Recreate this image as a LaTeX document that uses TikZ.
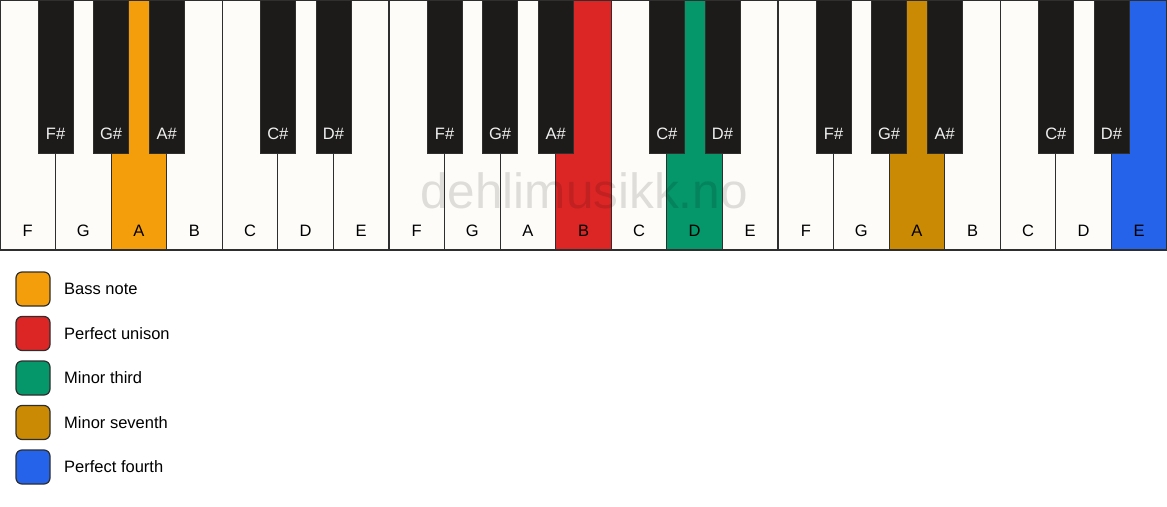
\documentclass[tikz,border=0pt]{standalone}
\usepackage{fontspec}
\setmainfont{Liberation Sans}
\usetikzlibrary{positioning}

\definecolor{keywhite}{HTML}{FDFCF9}
\definecolor{keyblack}{HTML}{1C1B19}
\definecolor{keyline}{HTML}{2E2E2E}
\definecolor{bassnote}{HTML}{F59E0B}
\definecolor{unison}{HTML}{DC2626}
\definecolor{minthird}{HTML}{059669}
\definecolor{minseventh}{HTML}{CA8A04}
\definecolor{fourth}{HTML}{2563EB}

\begin{document}
\begin{tikzpicture}[x=1pt,y=-1pt,
  wkey/.style={draw=keyline,line width=1.2pt,fill=keywhite,minimum width=55.571pt,minimum height=250pt,inner sep=0pt,outer sep=0pt},
  bkey/.style={draw=keyblack!80!gray,line width=0.6pt,fill=keyblack,minimum width=35pt,minimum height=153pt,inner sep=0pt,outer sep=0pt,anchor=north},
  wlab/.style={font=\fontsize{16.5}{19}\selectfont,text=black,inner sep=0pt},
  blab/.style={font=\fontsize{16.5}{19}\selectfont,text=white!94!black,inner sep=0pt},
  legbox/.style={draw=keyline,line width=1.2pt,rounded corners=6pt,minimum width=34pt,minimum height=34pt,inner sep=0pt,outer sep=0pt},
  legtxt/.style={font=\fontsize{16.5}{19}\selectfont,inner sep=0pt,anchor=west},
  wmark/.style={font=\fontsize{49.5}{55}\selectfont,text=black,text opacity=0.12,inner sep=0pt,anchor=base}]
 \useasboundingbox (0,0) rectangle (1167,506);
 % white keys
 \node[wkey] (k1) at (27.786,125) {};
 \node[wkey,right=0pt of k1] (k2) {};
 \node[wkey,right=0pt of k2,fill=bassnote] (k3) {};
 \node[wkey,right=0pt of k3] (k4) {};
 \node[wkey,right=0pt of k4] (k5) {};
 \node[wkey,right=0pt of k5] (k6) {};
 \node[wkey,right=0pt of k6] (k7) {};
 \node[wkey,right=0pt of k7] (k8) {};
 \node[wkey,right=0pt of k8] (k9) {};
 \node[wkey,right=0pt of k9] (k10) {};
 \node[wkey,right=0pt of k10,fill=unison] (k11) {};
 \node[wkey,right=0pt of k11] (k12) {};
 \node[wkey,right=0pt of k12,fill=minthird] (k13) {};
 \node[wkey,right=0pt of k13] (k14) {};
 \node[wkey,right=0pt of k14] (k15) {};
 \node[wkey,right=0pt of k15] (k16) {};
 \node[wkey,right=0pt of k16,fill=minseventh] (k17) {};
 \node[wkey,right=0pt of k17] (k18) {};
 \node[wkey,right=0pt of k18] (k19) {};
 \node[wkey,right=0pt of k19] (k20) {};
 \node[wkey,right=0pt of k20,fill=fourth] (k21) {};
 % white key names
 \node[wlab] at ([yshift=19pt]k1.south) {F};
 \node[wlab] at ([yshift=19pt]k2.south) {G};
 \node[wlab] at ([yshift=19pt]k3.south) {A};
 \node[wlab] at ([yshift=19pt]k4.south) {B};
 \node[wlab] at ([yshift=19pt]k5.south) {C};
 \node[wlab] at ([yshift=19pt]k6.south) {D};
 \node[wlab] at ([yshift=19pt]k7.south) {E};
 \node[wlab] at ([yshift=19pt]k8.south) {F};
 \node[wlab] at ([yshift=19pt]k9.south) {G};
 \node[wlab] at ([yshift=19pt]k10.south) {A};
 \node[wlab] at ([yshift=19pt]k11.south) {B};
 \node[wlab] at ([yshift=19pt]k12.south) {C};
 \node[wlab] at ([yshift=19pt]k13.south) {D};
 \node[wlab] at ([yshift=19pt]k14.south) {E};
 \node[wlab] at ([yshift=19pt]k15.south) {F};
 \node[wlab] at ([yshift=19pt]k16.south) {G};
 \node[wlab] at ([yshift=19pt]k17.south) {A};
 \node[wlab] at ([yshift=19pt]k18.south) {B};
 \node[wlab] at ([yshift=19pt]k19.south) {C};
 \node[wlab] at ([yshift=19pt]k20.south) {D};
 \node[wlab] at ([yshift=19pt]k21.south) {E};
 % black keys
 \node[bkey] (s1) at (k1.north east) {};
 \node[bkey] (s2) at (k2.north east) {};
 \node[bkey] (s3) at (k3.north east) {};
 \node[bkey] (s4) at (k5.north east) {};
 \node[bkey] (s5) at (k6.north east) {};
 \node[bkey] (s6) at (k8.north east) {};
 \node[bkey] (s7) at (k9.north east) {};
 \node[bkey] (s8) at (k10.north east) {};
 \node[bkey] (s9) at (k12.north east) {};
 \node[bkey] (s10) at (k13.north east) {};
 \node[bkey] (s11) at (k15.north east) {};
 \node[bkey] (s12) at (k16.north east) {};
 \node[bkey] (s13) at (k17.north east) {};
 \node[bkey] (s14) at (k19.north east) {};
 \node[bkey] (s15) at (k20.north east) {};
 % black key names
 \node[blab] at ([yshift=19pt]s1.south) {F\#};
 \node[blab] at ([yshift=19pt]s2.south) {G\#};
 \node[blab] at ([yshift=19pt]s3.south) {A\#};
 \node[blab] at ([yshift=19pt]s4.south) {C\#};
 \node[blab] at ([yshift=19pt]s5.south) {D\#};
 \node[blab] at ([yshift=19pt]s6.south) {F\#};
 \node[blab] at ([yshift=19pt]s7.south) {G\#};
 \node[blab] at ([yshift=19pt]s8.south) {A\#};
 \node[blab] at ([yshift=19pt]s9.south) {C\#};
 \node[blab] at ([yshift=19pt]s10.south) {D\#};
 \node[blab] at ([yshift=19pt]s11.south) {F\#};
 \node[blab] at ([yshift=19pt]s12.south) {G\#};
 \node[blab] at ([yshift=19pt]s13.south) {A\#};
 \node[blab] at ([yshift=19pt]s14.south) {C\#};
 \node[blab] at ([yshift=19pt]s15.south) {D\#};
 % watermark
 \node[wmark] (wm) at (584,208) {dehlimusikk.no};
 % legend
 \node[legbox,fill=bassnote] (lg1) at (33,289) {};
 \node[legbox,fill=unison,below=10.5pt of lg1] (lg2) {};
 \node[legbox,fill=minthird,below=10.5pt of lg2] (lg3) {};
 \node[legbox,fill=minseventh,below=10.5pt of lg3] (lg4) {};
 \node[legbox,fill=fourth,below=10.5pt of lg4] (lg5) {};
 \node[legtxt,right=14pt of lg1] (lt1) {Bass note};
 \node[legtxt,right=14pt of lg2] (lt2) {Perfect unison};
 \node[legtxt,right=14pt of lg3] (lt3) {Minor third};
 \node[legtxt,right=14pt of lg4] (lt4) {Minor seventh};
 \node[legtxt,right=14pt of lg5] (lt5) {Perfect fourth};
\end{tikzpicture}
\end{document}
